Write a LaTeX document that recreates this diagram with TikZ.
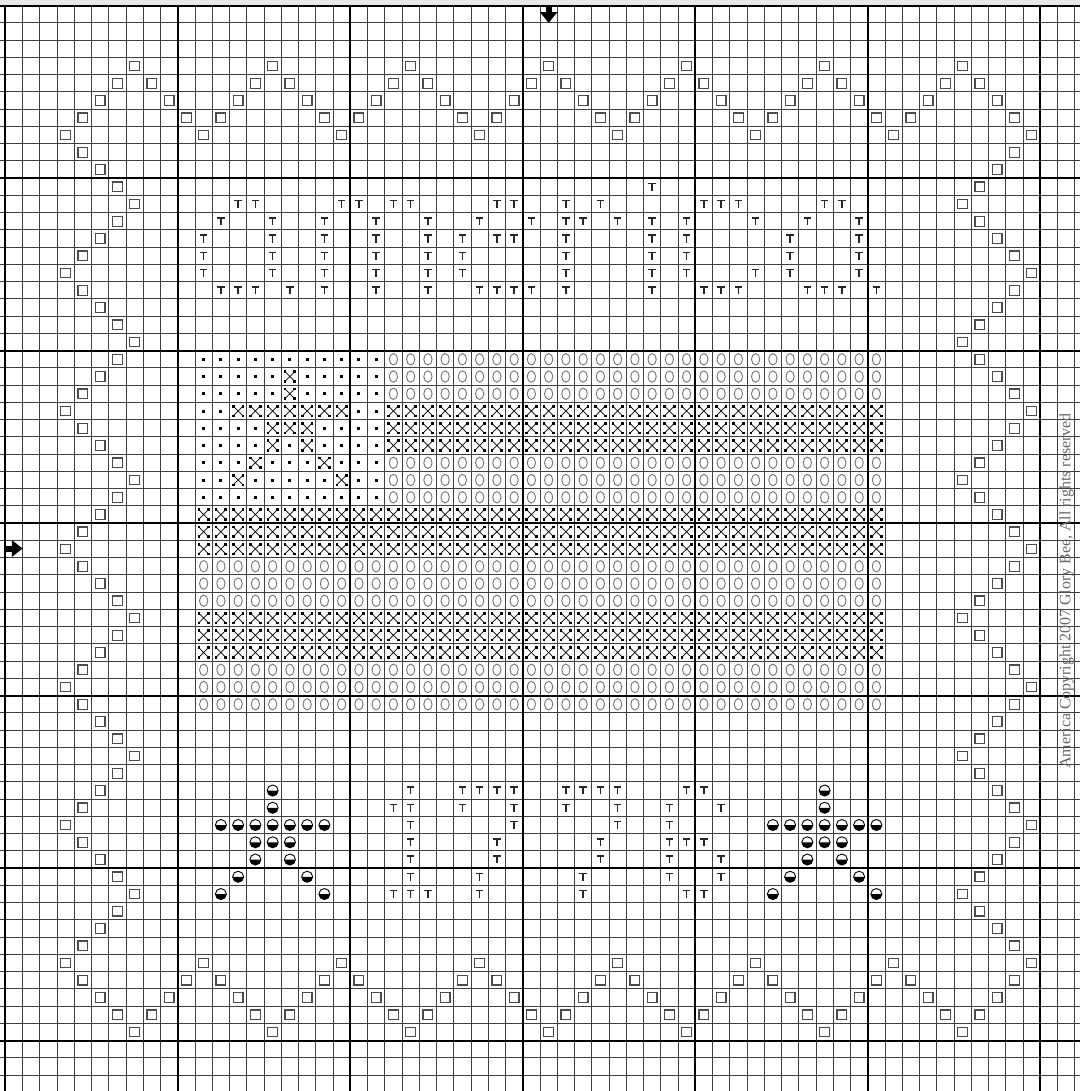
\documentclass[tikz,border=0pt]{standalone}
\usepackage{fontspec}
\setmainfont{Liberation Serif}
\tikzset{
  pics/boxsym/.style={code={\draw[black!70, line width=0.8pt] (-.28,-.28) rectangle (.28,.28);}},
  pics/tsym/.style={code={\draw[black!85, line width=1pt] (-.22,-.2) -- (.22,-.2) (0,-.2) -- (0,.23);}},
  pics/dotsym/.style={code={\fill (-.085,-.085) rectangle (.085,.085);}},
  pics/crosssym/.style={code={
    \draw[line width=0.5pt] (-.28,-.28) -- (.28,.28) (-.28,.28) -- (.28,-.28);
    \foreach \sx in {-1,1} \foreach \sy in {-1,1}
      \fill (\sx*.28-.075,\sy*.28-.075) rectangle (\sx*.28+.075,\sy*.28+.075);}},
  pics/ringsym/.style={code={\draw[black!55, line width=0.6pt] (0,0) ellipse[x radius=.24, y radius=.33];}},
  pics/halfsym/.style={code={
    \fill (.32,0) arc[start angle=0, end angle=180, radius=.32] -- cycle;
    \draw[line width=0.6pt] (0,0) circle[radius=.32];}}
}
\begin{document}
\begin{tikzpicture}[x=0.4cm, y=-0.4cm,
  minor/.style={black!75, line width=0.65pt},
  major/.style={black, line width=1.3pt}]
% Page
\useasboundingbox (-0.307,-0.33) rectangle (62.3,62.92);
\clip (-0.307,-0.33) rectangle (62.3,62.92);
\fill[gray!18] (-0.307,-0.33) rectangle (62.3,0);
% Grid
\foreach \i in {0,...,63} {
  \draw[minor] (\i,0) -- (\i,63);
  \draw[minor] (-0.4,\i) -- (63,\i);
}
\foreach \i in {0,10,...,60} {
  \draw[major] (\i,0) -- (\i,63);
  \draw[major] (-0.4,\i) -- (63,\i);
}
% Centre arrows
\fill (31.32,0) rectangle (31.68,0.38);
\fill (31,0.38) -- (32,0.38) -- (31.5,1.0) -- cycle;
\fill (0,31.32) rectangle (0.38,31.68);
\fill (0.38,30.98) -- (0.38,31.96) -- (1.0,31.47) -- cycle;
% Zigzag border
\foreach \c in {3,...,59} {
  \pgfmathtruncatemacro\rr{3+abs(mod(\c-3,8)-4)}
  \pic at (\c+.5,\rr+.5) {boxsym};
  \pic at (\c+.5,62-\rr+.5) {boxsym};
}
\foreach \r in {8,...,54} {
  \pgfmathtruncatemacro\cc{3+abs(mod(\r-3,8)-4)}
  \pic at (\cc+.5,\r+.5) {boxsym};
  \pic at (62-\cc+.5,\r+.5) {boxsym};
}
% Lettering
\foreach \r/\cols in {10/{37},
    11/{13,14,19,20,22,23,28,29,32,34,40,41,42,47,48},
    12/{12,15,18,21,24,27,30,32,33,35,37,39,43,46,49},
    13/{11,15,18,21,24,26,28,29,32,37,39,45,49},
    14/{11,15,18,21,24,26,32,37,39,45,49},
    15/{11,15,18,21,24,26,32,37,39,43,45,49},
    16/{12,13,14,16,18,21,24,27,28,29,30,32,37,40,41,42,46,47,48,50}} {
  \foreach \c in \cols {\pic at (\c+.5,\r+.5) {tsym};}
}
% Flag: canton
\foreach \r/\row in {20/{0,0,0,0,0,0,0,0,0,0,0},
    21/{0,0,0,0,0,1,0,0,0,0,0}, 22/{0,0,0,0,0,1,0,0,0,0,0},
    23/{0,0,1,1,1,1,1,1,1,0,0}, 24/{0,0,0,0,1,1,1,0,0,0,0},
    25/{0,0,0,0,1,0,1,0,0,0,0}, 26/{0,0,0,1,0,0,0,1,0,0,0},
    27/{0,0,1,0,0,0,0,0,1,0,0}, 28/{0,0,0,0,0,0,0,0,0,0,0}} {
  \foreach \v [count=\c from 11] in \row {
    \ifnum\v=1 \pic at (\c+.5,\r+.5) {crosssym}; \else \pic at (\c+.5,\r+.5) {dotsym}; \fi
  }
}
% Flag: stripes
\foreach \r in {20,...,40} {
  \pgfmathtruncatemacro\band{mod(floor((\r-20)/3),2)}
  \pgfmathtruncatemacro\first{\r<29 ? 22 : 11}
  \foreach \c in {\first,...,50} {
    \ifnum\band=0 \pic at (\c+.5,\r+.5) {ringsym}; \else \pic at (\c+.5,\r+.5) {crosssym}; \fi
  }
}
% Year
\foreach \r/\cols in {45/{23,26,27,28,29,32,33,34,35,39,40},
    46/{22,23,26,29,32,35,38,41},
    47/{23,29,35,38},
    48/{23,28,34,38,39,40},
    49/{23,28,34,38,41},
    50/{23,27,33,38,41},
    51/{22,23,24,27,33,39,40}} {
  \foreach \c in \cols {\pic at (\c+.5,\r+.5) {tsym};}
}
% Stars
\foreach \sc in {15,47} {
  \foreach \r/\offs in {45/{0},46/{0},47/{-3,-2,-1,0,1,2,3},48/{-1,0,1},49/{-1,1},50/{-2,2},51/{-3,3}} {
    \foreach \o in \offs {\pic at (\sc+\o+.5,\r+.5) {halfsym};}
  }
}
% Copyright line
\node[rotate=90, anchor=base, inner sep=0pt, text=black!60,
  font=\fontsize{10.5}{12}\selectfont] (copyright) at (61.75,33.93)
  {America Copyright 2007 Glory Bee, All rights reserved};
\end{tikzpicture}
\end{document}
